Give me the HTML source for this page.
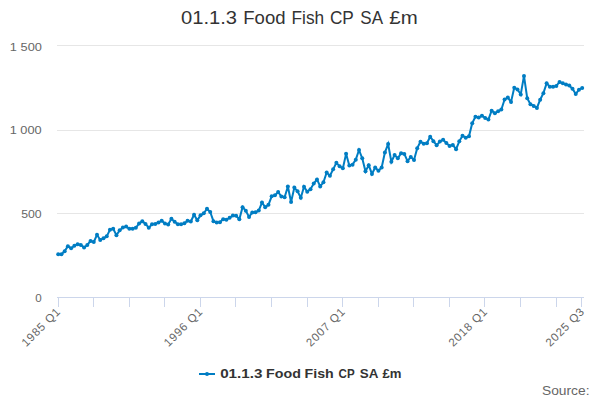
<!DOCTYPE html>
<html><head><meta charset="utf-8"><style>
html,body{margin:0;padding:0;background:#fff;}
svg{display:block;font-family:"Liberation Sans",sans-serif;}
</style></head><body>
<svg width="600" height="400" viewBox="0 0 600 400">
<rect x="0" y="0" width="600" height="400" fill="#ffffff"/>
<g><text transform="translate(180.96 23.75) scale(1.1216 1)" font-size="18" font-weight="normal" fill="#333333">01.1.3</text><text transform="translate(243.25 23.75) scale(1.0301 1)" font-size="18" font-weight="normal" fill="#333333">Food</text><text transform="translate(291.56 23.75) scale(0.9600 1)" font-size="18" font-weight="normal" fill="#333333">Fish</text><text transform="translate(329.94 23.75) scale(0.9565 1)" font-size="18" font-weight="normal" fill="#333333">CP</text><text transform="translate(360.29 23.75) scale(0.9462 1)" font-size="18" font-weight="normal" fill="#333333">SA</text><text transform="translate(389.33 23.75) scale(1.1355 1)" font-size="18" font-weight="normal" fill="#333333">£m</text></g>
<g fill="#e6e6e6">
<rect x="57" y="45" width="527" height="1"/>
<rect x="57" y="130" width="527" height="1"/>
<rect x="57" y="213" width="527" height="1"/>
</g>
<g fill="#ccd6eb">
<rect x="57" y="297" width="527" height="1"/>
<rect x="58" y="297" width="1" height="10"/><rect x="93" y="297" width="1" height="10"/><rect x="129" y="297" width="1" height="10"/><rect x="164" y="297" width="1" height="10"/><rect x="200" y="297" width="1" height="10"/><rect x="235" y="297" width="1" height="10"/><rect x="271" y="297" width="1" height="10"/><rect x="307" y="297" width="1" height="10"/><rect x="342" y="297" width="1" height="10"/><rect x="378" y="297" width="1" height="10"/><rect x="413" y="297" width="1" height="10"/><rect x="449" y="297" width="1" height="10"/><rect x="484" y="297" width="1" height="10"/><rect x="520" y="297" width="1" height="10"/><rect x="556" y="297" width="1" height="10"/><rect x="581" y="297" width="1" height="10"/>
</g>
<g><text transform="translate(9.85 50.7) scale(1.1333 1)" font-size="11.3" font-weight="normal" fill="#666666">1 500</text><text transform="translate(9.65 134) scale(1.1296 1)" font-size="11.3" font-weight="normal" fill="#666666">1 000</text><text transform="translate(21.16 218) scale(1.0861 1)" font-size="11.3" font-weight="normal" fill="#666666">500</text><text transform="translate(35.29 302) scale(1.0286 1)" font-size="11.3" font-weight="normal" fill="#666666">0</text></g>
<g font-size="11.5" fill="#666666" text-anchor="end" style="letter-spacing:0.8px">
<text x="61.40" y="312.1" transform="rotate(-45 61.40 312.1)">1985 Q1</text><text x="203.72" y="312.1" transform="rotate(-45 203.72 312.1)">1996 Q1</text><text x="346.04" y="312.1" transform="rotate(-45 346.04 312.1)">2007 Q1</text><text x="488.37" y="312.1" transform="rotate(-45 488.37 312.1)">2018 Q1</text><text x="585.41" y="312.1" transform="rotate(-45 585.41 312.1)">2025 Q3</text>
</g>
<g>
<path d="M58.20 254.15 L61.43 254.35 L64.67 251.15 L67.90 246.15 L71.14 248.35 L74.37 245.75 L77.61 244.15 L80.84 244.95 L84.08 247.55 L87.31 244.95 L90.55 240.95 L93.78 241.95 L97.02 234.75 L100.25 239.95 L103.48 238.35 L106.72 236.35 L109.95 229.75 L113.19 228.75 L116.42 235.15 L119.66 230.35 L122.89 227.55 L126.13 226.55 L129.36 228.75 L132.60 228.75 L135.83 227.75 L139.06 223.55 L142.30 221.35 L145.53 223.95 L148.77 227.75 L152.00 224.35 L155.24 223.95 L158.47 222.55 L161.71 220.75 L164.94 223.55 L168.18 224.55 L171.41 218.75 L174.65 221.75 L177.88 224.35 L181.11 224.35 L184.35 223.35 L187.58 220.75 L190.82 221.55 L194.05 214.75 L197.29 220.35 L200.52 215.35 L203.76 213.35 L206.99 208.75 L210.23 211.95 L213.46 221.15 L216.70 222.55 L219.93 222.15 L223.16 219.15 L226.40 219.75 L229.63 217.75 L232.87 215.55 L236.10 215.75 L239.34 219.15 L242.57 207.15 L245.81 210.75 L249.04 216.90 L252.28 212.40 L255.51 212.35 L258.75 210.55 L261.98 202.55 L265.21 207.15 L268.45 204.75 L271.68 196.35 L274.92 195.35 L278.15 191.95 L281.39 196.55 L284.62 197.25 L287.86 186.55 L291.09 201.95 L294.33 187.55 L297.56 191.35 L300.80 197.75 L304.03 186.75 L307.26 191.75 L310.50 189.15 L313.73 183.55 L316.97 179.45 L320.20 186.45 L323.44 182.35 L326.67 172.55 L329.91 175.75 L333.14 169.35 L336.38 162.75 L339.61 166.35 L342.84 168.35 L346.08 153.85 L349.31 165.45 L352.55 164.65 L355.78 159.65 L359.02 150.05 L362.25 158.25 L365.49 171.35 L368.72 165.15 L371.96 173.95 L375.19 167.55 L378.43 170.75 L381.66 167.55 L384.89 152.55 L388.13 143.95 L391.36 161.75 L394.60 154.95 L397.83 158.35 L401.07 153.15 L404.30 153.95 L407.54 161.15 L410.77 156.95 L414.01 159.95 L417.24 148.15 L420.48 141.75 L423.71 143.75 L426.94 143.15 L430.18 136.75 L433.41 141.15 L436.65 145.15 L439.88 141.55 L443.12 139.75 L446.35 142.95 L449.59 145.95 L452.82 144.95 L456.06 149.15 L459.29 141.35 L462.52 135.75 L465.76 137.75 L468.99 136.35 L472.23 123.15 L475.46 116.75 L478.70 117.55 L481.93 115.75 L485.17 117.95 L488.40 119.55 L491.64 110.65 L494.87 113.15 L498.11 111.35 L501.34 109.55 L504.57 99.55 L507.81 97.55 L511.04 101.95 L514.28 87.65 L517.51 89.55 L520.75 94.45 L523.98 75.95 L527.22 98.15 L530.45 104.15 L533.69 105.95 L536.92 107.95 L540.16 99.75 L543.39 93.15 L546.62 83.35 L549.86 86.65 L553.09 86.75 L556.33 85.95 L559.56 81.95 L562.80 83.35 L566.03 84.55 L569.27 85.55 L572.50 88.75 L575.74 93.95 L578.97 89.75 L582.21 87.95" fill="none" stroke="#007dc3" stroke-width="2" stroke-linejoin="miter"/>
<g fill="#007dc3"><circle cx="58.20" cy="254.15" r="2"/><circle cx="61.43" cy="254.35" r="2"/><circle cx="64.67" cy="251.15" r="2"/><circle cx="67.90" cy="246.15" r="2"/><circle cx="71.14" cy="248.35" r="2"/><circle cx="74.37" cy="245.75" r="2"/><circle cx="77.61" cy="244.15" r="2"/><circle cx="80.84" cy="244.95" r="2"/><circle cx="84.08" cy="247.55" r="2"/><circle cx="87.31" cy="244.95" r="2"/><circle cx="90.55" cy="240.95" r="2"/><circle cx="93.78" cy="241.95" r="2"/><circle cx="97.02" cy="234.75" r="2"/><circle cx="100.25" cy="239.95" r="2"/><circle cx="103.48" cy="238.35" r="2"/><circle cx="106.72" cy="236.35" r="2"/><circle cx="109.95" cy="229.75" r="2"/><circle cx="113.19" cy="228.75" r="2"/><circle cx="116.42" cy="235.15" r="2"/><circle cx="119.66" cy="230.35" r="2"/><circle cx="122.89" cy="227.55" r="2"/><circle cx="126.13" cy="226.55" r="2"/><circle cx="129.36" cy="228.75" r="2"/><circle cx="132.60" cy="228.75" r="2"/><circle cx="135.83" cy="227.75" r="2"/><circle cx="139.06" cy="223.55" r="2"/><circle cx="142.30" cy="221.35" r="2"/><circle cx="145.53" cy="223.95" r="2"/><circle cx="148.77" cy="227.75" r="2"/><circle cx="152.00" cy="224.35" r="2"/><circle cx="155.24" cy="223.95" r="2"/><circle cx="158.47" cy="222.55" r="2"/><circle cx="161.71" cy="220.75" r="2"/><circle cx="164.94" cy="223.55" r="2"/><circle cx="168.18" cy="224.55" r="2"/><circle cx="171.41" cy="218.75" r="2"/><circle cx="174.65" cy="221.75" r="2"/><circle cx="177.88" cy="224.35" r="2"/><circle cx="181.11" cy="224.35" r="2"/><circle cx="184.35" cy="223.35" r="2"/><circle cx="187.58" cy="220.75" r="2"/><circle cx="190.82" cy="221.55" r="2"/><circle cx="194.05" cy="214.75" r="2"/><circle cx="197.29" cy="220.35" r="2"/><circle cx="200.52" cy="215.35" r="2"/><circle cx="203.76" cy="213.35" r="2"/><circle cx="206.99" cy="208.75" r="2"/><circle cx="210.23" cy="211.95" r="2"/><circle cx="213.46" cy="221.15" r="2"/><circle cx="216.70" cy="222.55" r="2"/><circle cx="219.93" cy="222.15" r="2"/><circle cx="223.16" cy="219.15" r="2"/><circle cx="226.40" cy="219.75" r="2"/><circle cx="229.63" cy="217.75" r="2"/><circle cx="232.87" cy="215.55" r="2"/><circle cx="236.10" cy="215.75" r="2"/><circle cx="239.34" cy="219.15" r="2"/><circle cx="242.57" cy="207.15" r="2"/><circle cx="245.81" cy="210.75" r="2"/><circle cx="249.04" cy="216.90" r="2"/><circle cx="252.28" cy="212.40" r="2"/><circle cx="255.51" cy="212.35" r="2"/><circle cx="258.75" cy="210.55" r="2"/><circle cx="261.98" cy="202.55" r="2"/><circle cx="265.21" cy="207.15" r="2"/><circle cx="268.45" cy="204.75" r="2"/><circle cx="271.68" cy="196.35" r="2"/><circle cx="274.92" cy="195.35" r="2"/><circle cx="278.15" cy="191.95" r="2"/><circle cx="281.39" cy="196.55" r="2"/><circle cx="284.62" cy="197.25" r="2"/><circle cx="287.86" cy="186.55" r="2"/><circle cx="291.09" cy="201.95" r="2"/><circle cx="294.33" cy="187.55" r="2"/><circle cx="297.56" cy="191.35" r="2"/><circle cx="300.80" cy="197.75" r="2"/><circle cx="304.03" cy="186.75" r="2"/><circle cx="307.26" cy="191.75" r="2"/><circle cx="310.50" cy="189.15" r="2"/><circle cx="313.73" cy="183.55" r="2"/><circle cx="316.97" cy="179.45" r="2"/><circle cx="320.20" cy="186.45" r="2"/><circle cx="323.44" cy="182.35" r="2"/><circle cx="326.67" cy="172.55" r="2"/><circle cx="329.91" cy="175.75" r="2"/><circle cx="333.14" cy="169.35" r="2"/><circle cx="336.38" cy="162.75" r="2"/><circle cx="339.61" cy="166.35" r="2"/><circle cx="342.84" cy="168.35" r="2"/><circle cx="346.08" cy="153.85" r="2"/><circle cx="349.31" cy="165.45" r="2"/><circle cx="352.55" cy="164.65" r="2"/><circle cx="355.78" cy="159.65" r="2"/><circle cx="359.02" cy="150.05" r="2"/><circle cx="362.25" cy="158.25" r="2"/><circle cx="365.49" cy="171.35" r="2"/><circle cx="368.72" cy="165.15" r="2"/><circle cx="371.96" cy="173.95" r="2"/><circle cx="375.19" cy="167.55" r="2"/><circle cx="378.43" cy="170.75" r="2"/><circle cx="381.66" cy="167.55" r="2"/><circle cx="384.89" cy="152.55" r="2"/><circle cx="388.13" cy="143.95" r="2"/><circle cx="391.36" cy="161.75" r="2"/><circle cx="394.60" cy="154.95" r="2"/><circle cx="397.83" cy="158.35" r="2"/><circle cx="401.07" cy="153.15" r="2"/><circle cx="404.30" cy="153.95" r="2"/><circle cx="407.54" cy="161.15" r="2"/><circle cx="410.77" cy="156.95" r="2"/><circle cx="414.01" cy="159.95" r="2"/><circle cx="417.24" cy="148.15" r="2"/><circle cx="420.48" cy="141.75" r="2"/><circle cx="423.71" cy="143.75" r="2"/><circle cx="426.94" cy="143.15" r="2"/><circle cx="430.18" cy="136.75" r="2"/><circle cx="433.41" cy="141.15" r="2"/><circle cx="436.65" cy="145.15" r="2"/><circle cx="439.88" cy="141.55" r="2"/><circle cx="443.12" cy="139.75" r="2"/><circle cx="446.35" cy="142.95" r="2"/><circle cx="449.59" cy="145.95" r="2"/><circle cx="452.82" cy="144.95" r="2"/><circle cx="456.06" cy="149.15" r="2"/><circle cx="459.29" cy="141.35" r="2"/><circle cx="462.52" cy="135.75" r="2"/><circle cx="465.76" cy="137.75" r="2"/><circle cx="468.99" cy="136.35" r="2"/><circle cx="472.23" cy="123.15" r="2"/><circle cx="475.46" cy="116.75" r="2"/><circle cx="478.70" cy="117.55" r="2"/><circle cx="481.93" cy="115.75" r="2"/><circle cx="485.17" cy="117.95" r="2"/><circle cx="488.40" cy="119.55" r="2"/><circle cx="491.64" cy="110.65" r="2"/><circle cx="494.87" cy="113.15" r="2"/><circle cx="498.11" cy="111.35" r="2"/><circle cx="501.34" cy="109.55" r="2"/><circle cx="504.57" cy="99.55" r="2"/><circle cx="507.81" cy="97.55" r="2"/><circle cx="511.04" cy="101.95" r="2"/><circle cx="514.28" cy="87.65" r="2"/><circle cx="517.51" cy="89.55" r="2"/><circle cx="520.75" cy="94.45" r="2"/><circle cx="523.98" cy="75.95" r="2"/><circle cx="527.22" cy="98.15" r="2"/><circle cx="530.45" cy="104.15" r="2"/><circle cx="533.69" cy="105.95" r="2"/><circle cx="536.92" cy="107.95" r="2"/><circle cx="540.16" cy="99.75" r="2"/><circle cx="543.39" cy="93.15" r="2"/><circle cx="546.62" cy="83.35" r="2"/><circle cx="549.86" cy="86.65" r="2"/><circle cx="553.09" cy="86.75" r="2"/><circle cx="556.33" cy="85.95" r="2"/><circle cx="559.56" cy="81.95" r="2"/><circle cx="562.80" cy="83.35" r="2"/><circle cx="566.03" cy="84.55" r="2"/><circle cx="569.27" cy="85.55" r="2"/><circle cx="572.50" cy="88.75" r="2"/><circle cx="575.74" cy="93.95" r="2"/><circle cx="578.97" cy="89.75" r="2"/><circle cx="582.21" cy="87.95" r="2"/></g>
</g>
<g>
<rect x="199" y="373" width="16" height="2" fill="#007dc3"/>
<circle cx="207" cy="374" r="2" fill="#007dc3"/>
<text transform="translate(220.17 377.5) scale(1.2677 1)" font-size="12" font-weight="bold" fill="#333333">01.1.3</text><text transform="translate(266.11 377.5) scale(1.1892 1)" font-size="12" font-weight="bold" fill="#333333">Food</text><text transform="translate(304.61 377.5) scale(1.1828 1)" font-size="12" font-weight="bold" fill="#333333">Fish</text><text transform="translate(338.62 377.5) scale(0.9651 1)" font-size="12" font-weight="bold" fill="#333333">CP</text><text transform="translate(359.84 377.5) scale(1.1175 1)" font-size="12" font-weight="bold" fill="#333333">SA</text><text transform="translate(382.53 377.5) scale(1.0970 1)" font-size="12" font-weight="bold" fill="#333333">£m</text>
</g>
<text transform="translate(542.03 394.5) scale(1.1497 1)" font-size="12" font-weight="normal" fill="#666666">Source:</text>
</svg>
</body></html>
